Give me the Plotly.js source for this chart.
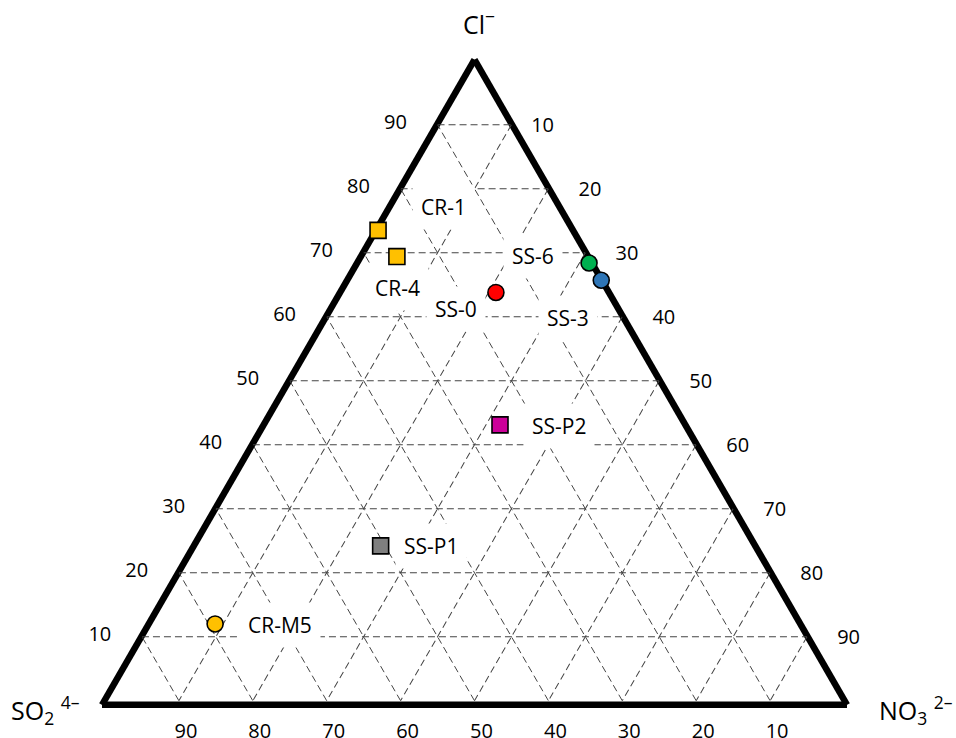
<!DOCTYPE html>
<html>
<head>
<meta charset="utf-8">
<script src="https://cdn.plot.ly/plotly-3.0.1.min.js"></script>
<style>html,body{margin:0;padding:0;background:#fff;}#chart{width:956px;height:738px;}</style>
</head>
<body>
<div id="chart"></div>
<script>
// ---- data (percent) ----
const samples  = ['CR-1', 'CR-4', 'SS-0', 'SS-6', 'SS-3', 'SS-P2', 'SS-P1', 'CR-M5'];
const chloride = [73.5, 69.4, 63.8, 68.4, 65.7, 43.1, 24.2, 12.0];   // Cl⁻ (top corner)
const sulfate  = [26.3, 25.8, 15.2, 0.3, 0.0, 25.0, 50.6, 79.1];     // SO2 4– (bottom-left corner)
const nitrate  = [0.2, 4.8, 21.0, 31.3, 34.3, 31.9, 25.2, 8.9];      // NO3 2– (bottom-right corner)
const tickValues = [10, 20, 30, 40, 50, 60, 70, 80, 90];
const tickLabels = ['10', '20', '30', '40', '50', '60', '70', '80', '90'];

// ---- styling ----
const markerSymbols = ['square', 'square', 'circle', 'circle', 'circle', 'square', 'square', 'circle'];
const markerColors  = ['#FFC000', '#FFC000', '#FF0000', '#00B050', '#2E75B6', '#CC0099', '#7F7F7F', '#FFC000'];
const labelShift    = [[65, 23], [1, -31], [-40, -17], [-56, 7], [-33, -38], [59, -1], [50, 0], [65, -1]];

const W = 956, H = 738;
const FONT = 'Open Sans, sans-serif';
const NB = '\u00a0';
// data triangle (grid) and frame triangle domains, in pixels
const dataBox  = {x0: 105, x1: 844, yTop: 60.5, yBot: 701};
const frameBox = {x0: 102, x1: 847, yTop: 59.5, yBot: 705};
function dom(b) { return {x: [b.x0 / W, b.x1 / W], y: [(H - b.yBot) / H, (H - b.yTop) / H]}; }

// ternary -> paper position, following Plotly's ternary fit of the data domain
function toPaper(a, b, c) {
  const s = a + b + c; a /= s; c /= s;
  const bw = dataBox.x1 - dataBox.x0, bh = dataBox.yBot - dataBox.yTop;
  const r = 2 / Math.sqrt(3);
  let w, h;
  if (bw > r * bh) { h = bh; w = h * r; } else { w = bw; h = w / r; }
  const x0 = (dataBox.x0 + dataBox.x1) / 2 - w / 2;
  const y0 = (dataBox.yTop + dataBox.yBot) / 2 - h / 2;
  const px = x0 + w * (c + a / 2), py = y0 + h * (1 - a);
  return [px / W, (H - py) / H];
}

const gridAxis = {
  title: {text: ''}, tickmode: 'array', tickvals: tickValues,
  tickfont: {family: FONT, size: 20, color: '#000'},
  showgrid: true, gridcolor: '#444', gridwidth: 1, griddash: '7px,4px',
  showline: false, min: 0, layer: 'below traces'
};
const frameAxis = {
  title: {text: ''}, showgrid: false, showticklabels: false, ticks: '',
  showline: true, linecolor: '#000', linewidth: 6.5, min: 0
};

const traces = [
  {type: 'scatterternary', subplot: 'ternary', mode: 'markers', a: [], b: [], c: [],
   hoverinfo: 'skip', showlegend: false},
  {type: 'scatterternary', subplot: 'ternary2', mode: 'markers',
   a: chloride, b: sulfate, c: nitrate, text: samples,
   marker: {symbol: markerSymbols, color: markerColors, size: 16, line: {color: '#000', width: 1.6}},
   cliponaxis: false, hoverinfo: 'text', showlegend: false}
];

const annotations = samples.map((s, i) => {
  const p = toPaper(chloride[i], sulfate[i], nitrate[i]);
  return {xref: 'paper', yref: 'paper', x: p[0], y: p[1], xanchor: 'center', yanchor: 'middle',
    text: s, showarrow: false, xshift: labelShift[i][0], yshift: labelShift[i][1],
    bgcolor: '#fff', borderpad: 8, font: {family: FONT, size: 21, color: '#000'}};
});
const vTop = toPaper(100, 0, 0), vLeft = toPaper(0, 100, 0), vRight = toPaper(0, 0, 100);
const titleFont = {family: FONT, size: 25, color: '#000'};
annotations.push(
  {xref: 'paper', yref: 'paper', x: vTop[0], y: vTop[1], text: 'Cl<sup>−</sup>', showarrow: false,
   xanchor: 'center', yanchor: 'middle', xshift: 4, yshift: 38, font: titleFont},
  {xref: 'paper', yref: 'paper', x: vLeft[0], y: vLeft[1], text: 'SO<sub>2</sub> <sup>4–</sup>', showarrow: false,
   xanchor: 'right', yanchor: 'middle', xshift: -23, yshift: -9, font: titleFont},
  {xref: 'paper', yref: 'paper', x: vRight[0], y: vRight[1], text: 'NO<sub>3</sub> <sup>2–</sup>', showarrow: false,
   xanchor: 'left', yanchor: 'middle', xshift: 33, yshift: -9, font: titleFont}
);

const layout = {
  width: W, height: H, margin: {l: 0, r: 0, t: 0, b: 0},
  paper_bgcolor: '#fff', plot_bgcolor: '#fff',
  font: {family: FONT},
  ternary: {
    sum: 100, bgcolor: 'rgba(0,0,0,0)', domain: dom(frameBox),
    aaxis: Object.assign({}, frameAxis), baxis: Object.assign({}, frameAxis), caxis: Object.assign({}, frameAxis)
  },
  ternary2: {
    sum: 100, bgcolor: 'rgba(0,0,0,0)', domain: dom(dataBox),
    aaxis: Object.assign({}, gridAxis, {ticktext: tickLabels.map(t => t + NB + NB),
      ticks: 'outside', ticklen: 17, tickcolor: 'rgba(0,0,0,0)'}),
    baxis: Object.assign({}, gridAxis, {ticktext: tickLabels,
      ticks: 'outside', ticklen: 14, tickcolor: 'rgba(0,0,0,0)'}),
    caxis: Object.assign({}, gridAxis, {ticktext: tickLabels.map(t => NB.repeat(t === '10' ? 4 : 6) + t),
      ticks: ''})
  },
  annotations: annotations,
  showlegend: false
};

Plotly.newPlot('chart', traces, layout, {displayModeBar: false, staticPlot: true});
</script>
</body>
</html>
